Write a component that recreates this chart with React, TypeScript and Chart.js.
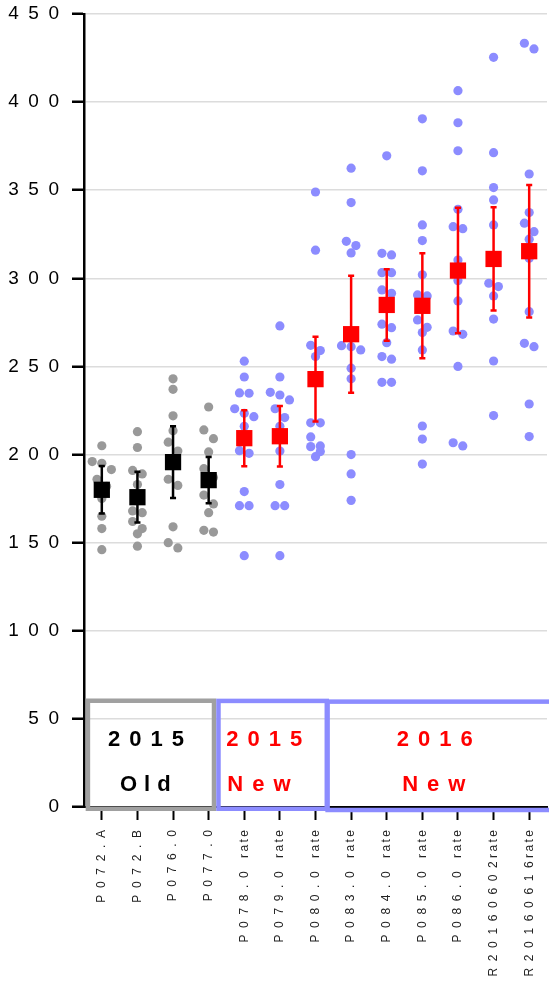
import React, { useEffect, useRef } from 'react';
import { Chart, registerables } from 'chart.js';

Chart.register(...registerables);

// ---------- data ----------
const categories = [
  'P072.A', 'P072.B', 'P076.0', 'P077.0',
  'P078.0 rate', 'P079.0 rate', 'P080.0 rate', 'P083.0 rate', 'P084.0 rate',
  'P085.0 rate', 'P086.0 rate', 'R20160602rate', 'R20160616rate',
];
const oldCount = 4; // first four categories are "2015 Old"

const yTickValues = [0, 50, 100, 150, 200, 250, 300, 350, 400, 450];

const valsP072A = [205, 196, 195, 191.5, 186, 182, 175, 165, 158, 146];
const valsP072B = [213, 204, 191, 189, 183, 168, 167, 162, 158, 155, 148];
const valsP076 = [243, 237, 222, 213.5, 207, 202, 197, 186, 182.5, 159, 150, 147];
const valsP077 = [227, 214, 209, 201.5, 192, 187, 177, 172, 167, 157, 156];
const valsP078 = [253, 244, 235, 234.8, 226, 223.4, 221.5, 216, 202.2, 200.7, 179, 171, 171, 142.6];
const valsP079 = [273, 244, 235.3, 233.8, 231, 226, 221, 216, 209, 202, 183, 171, 171, 142.6];
const valsP080 = [349, 316, 262, 259, 255.6, 218, 218, 210, 204.9, 204.5, 201.7, 198.8];
const valsP083 = [362.5, 343, 321, 318.6, 314.4, 261.8, 261.2, 259.4, 249, 243, 200, 189, 174];
const valsP084 = [369.5, 314.2, 313.3, 303.2, 303.2, 293.4, 291.5, 274, 272, 263.5, 255.6, 254.1, 241, 241];
const valsP085 = [390.5, 361, 330.3, 321.4, 302, 290.6, 290, 276.4, 272.2, 269.2, 259.4, 216.2, 208.8, 194.6];
const valsP086 = [406.5, 388.3, 372.4, 339.2, 329.3, 328.2, 310.4, 298.7, 287.2, 270.1, 268.2, 250, 206.7, 204.9];
const valsR0602 = [425.4, 371.3, 351.5, 344.5, 330.3, 297.2, 295.3, 290, 276.9, 253.1, 222.1];
const valsR0616 = [433.4, 430.2, 359.2, 337.3, 331.3, 326.5, 322.2, 311.4, 281.1, 263.1, 261.2, 228.7, 210.2];

const groupValues = [
  valsP072A, valsP072B, valsP076, valsP077, valsP078, valsP079, valsP080,
  valsP083, valsP084, valsP085, valsP086, valsR0602, valsR0616,
];

const means = [180, 175.8, 195.7, 185.5, 209.3, 210.4, 242.8, 268.3, 284.9, 284.4, 304.4, 311, 315.4];
const sds = [13.5, 14.4, 20.4, 13.1, 15.9, 17.2, 24.1, 33.2, 20.3, 29.8, 35.6, 29.3, 37.6];

// group annotation boxes (text shown on the chart)
const boxTitles = ['2015', '2015', '2016'];
const boxSubs = ['Old', 'New', 'New'];

// ---------- styling / layout helpers ----------
const GRAY_DOT = '#999999';
const BLUE_DOT = '#8c8cff';
const RED = '#ff0000';
const BLACK = '#000000';
const FONT = '"Liberation Sans", Arial, Helvetica, sans-serif';

const boxLayout = [
  { x0: -0.39, x1: 3.15, y0: -1, y1: 60.3, border: '#a0a0a0', text: BLACK, titleX: 1.24, subX: 1.22, subSpacing: 7 },
  { x0: 6.34, x1: 13.2, y0: -1.7, y1: 59.8, border: BLUE_DOT, text: RED, titleX: 9.35, subX: 9.32, subSpacing: 9 },
  { x0: 3.276, x1: 6.317, y0: -1, y1: 60.2, border: BLUE_DOT, text: RED, titleX: 4.56, subX: 4.41, subSpacing: 9 },
];
const boxTextIndex = [0, 2, 1];
const TITLE_Y = 34.5;
const SUB_Y = 8.9;

// scatter-dot spread: values close together share a row and are laid side by side
const ROW_VALUE = 5.1;      // values within this range share a row
const DOT_STEP = 9.6 / 35.65; // horizontal step between dots of a row, in category units
function spread(values: number[]): number[] {
  const order = values.map((_, i) => i).sort((a, b) => values[b] - values[a]);
  const offsets = new Array(values.length).fill(0);
  let row: number[] = [];
  const flush = () => {
    const n = row.length;
    row.forEach((idx, k) => { offsets[idx] = (k - (n - 1) / 2) * DOT_STEP; });
    row = [];
  };
  for (const i of order) {
    if (row.length && values[row[0]] - values[i] > ROW_VALUE) flush();
    row.push(i);
  }
  flush();
  return offsets;
}

function dotsFor(indices: number[]) {
  const pts: { x: number; y: number }[] = [];
  for (const i of indices) {
    const offs = spread(groupValues[i]);
    groupValues[i].forEach((v, k) => pts.push({ x: i + offs[k], y: v }));
  }
  return pts;
}

const CAP = 0.085;
function errorSegments(indices: number[]) {
  const out: { x: number; y: number | null }[] = [];
  for (const i of indices) {
    const hi = means[i] + sds[i];
    const lo = means[i] - sds[i];
    out.push({ x: i, y: lo }, { x: i, y: hi }, { x: i, y: null });
    out.push({ x: i - CAP, y: hi }, { x: i + CAP, y: hi }, { x: i, y: null });
    out.push({ x: i - CAP, y: lo }, { x: i + CAP, y: lo }, { x: i, y: null });
  }
  return out;
}

function spacedX(label: string): string {
  const m = label.match(/^(.*?)( ?)rate$/);
  const code = m ? m[1] : label;
  let s = code.split('').join('  ');
  if (m) s += (m[2] ? '    ' : ' ') + 'rate'.split('').join('\u2009');
  return s;
}

function drawSpaced(ctx: CanvasRenderingContext2D, text: string, cx: number, y: number, spacing: number) {
  const c = ctx as any;
  c.letterSpacing = '0px';
  const w0 = ctx.measureText(text).width;
  const visual = w0 + spacing * (text.length - 1);
  c.letterSpacing = spacing + 'px';
  ctx.textAlign = 'left';
  ctx.fillText(text, cx - visual / 2, y);
  c.letterSpacing = '0px';
}

const boxPlugin = {
  id: 'groupBoxes',
  afterDraw(chart: any) {
    const { ctx } = chart;
    const xs = chart.scales.x;
    const ys = chart.scales.y;
    ctx.save();
    boxLayout.forEach((b, k) => {
      const l = xs.getPixelForValue(b.x0);
      const r = xs.getPixelForValue(b.x1);
      const t = ys.getPixelForValue(b.y1);
      const bt = ys.getPixelForValue(b.y0);
      ctx.strokeStyle = b.border;
      ctx.lineWidth = 4.5;
      ctx.strokeRect(l, t, r - l, bt - t);
      const ti = boxTextIndex[k];
      ctx.fillStyle = b.text;
      ctx.font = `bold 22px ${FONT}`;
      ctx.textBaseline = 'alphabetic';
      drawSpaced(ctx, boxTitles[ti], xs.getPixelForValue(b.titleX), ys.getPixelForValue(TITLE_Y), 9);
      drawSpaced(ctx, boxSubs[ti], xs.getPixelForValue(b.subX), ys.getPixelForValue(SUB_Y), b.subSpacing);
    });
    ctx.restore();
  },
};

const oldIdx = categories.map((_, i) => i).filter((i) => i < oldCount);
const newIdx = categories.map((_, i) => i).filter((i) => i >= oldCount);

export default function App() {
  const ref = useRef<HTMLCanvasElement>(null);
  useEffect(() => {
    const canvas = ref.current;
    if (!canvas) return;
    const chart = new Chart(canvas, {
      type: 'scatter',
      data: {
        datasets: [
          {
            label: 'mean old',
            data: oldIdx.map((i) => ({ x: i, y: means[i] })),
            pointStyle: 'rect',
            pointRadius: 11.5,
            pointBackgroundColor: BLACK,
            pointBorderWidth: 0,
            order: 0,
          },
          {
            label: 'mean new',
            data: newIdx.map((i) => ({ x: i, y: means[i] })),
            pointStyle: 'rect',
            pointRadius: 11.5,
            pointBackgroundColor: RED,
            pointBorderWidth: 0,
            order: 0,
          },
          {
            label: 'sd old',
            data: errorSegments(oldIdx),
            showLine: true,
            spanGaps: false,
            borderColor: BLACK,
            borderWidth: 2.5,
            pointRadius: 0,
            order: 1,
          },
          {
            label: 'sd new',
            data: errorSegments(newIdx),
            showLine: true,
            spanGaps: false,
            borderColor: RED,
            borderWidth: 2.5,
            pointRadius: 0,
            order: 1,
          },
          {
            label: 'old',
            data: dotsFor(oldIdx),
            pointRadius: 4.6,
            pointBackgroundColor: GRAY_DOT,
            pointBorderWidth: 0,
            order: 2,
          },
          {
            label: 'new',
            data: dotsFor(newIdx),
            pointRadius: 4.6,
            pointBackgroundColor: BLUE_DOT,
            pointBorderWidth: 0,
            order: 2,
          },
        ] as any,
      },
      options: {
        responsive: false,
        maintainAspectRatio: false,
        devicePixelRatio: 1,
        animation: false,
        events: [],
        layout: { autoPadding: false, padding: { top: 14, right: 2, left: 0, bottom: 0 } },
        plugins: { legend: { display: false }, tooltip: { enabled: false } },
        scales: {
          x: {
            type: 'linear',
            min: -0.5,
            max: categories.length - 0.5,
            afterBuildTicks: (scale: any) => {
              scale.ticks = categories.map((_, i) => ({ value: i }));
            },
            afterFit: (scale: any) => {
              scale.height = 185;
              scale.paddingLeft = 0;
              scale.paddingRight = 0;
            },
            ticks: {
              autoSkip: false,
              minRotation: 90,
              maxRotation: 90,
              padding: 10,
              color: '#222222',
              font: { family: FONT, size: 12 },
              callback: (v: any) => spacedX(categories[Math.round(Number(v))] ?? ''),
            },
            grid: {
              drawOnChartArea: false,
              drawTicks: true,
              tickLength: 13,
              tickColor: BLACK,
              tickWidth: 2,
            },
            border: { display: true, color: BLACK, width: 2 },
          },
          y: {
            type: 'linear',
            min: 0,
            max: 450,
            afterBuildTicks: (scale: any) => {
              scale.ticks = yTickValues.map((v) => ({ value: v }));
            },
            afterFit: (scale: any) => {
              scale.width = 84;
              scale.paddingTop = 0;
              scale.paddingBottom = 0;
            },
            ticks: {
              padding: 13,
              color: BLACK,
              font: { family: FONT, size: 19 },
              callback: (v: any) => String(v).split('').join('\u2002'),
            },
            grid: {
              color: '#dcdcdc',
              lineWidth: 1.5,
              tickLength: 12,
              tickColor: BLACK,
              tickWidth: 2.5,
            },
            border: { display: true, color: BLACK, width: 2.5 },
          },
        },
      } as any,
      plugins: [boxPlugin],
    });
    return () => chart.destroy();
  }, []);

  return (
    <div style={{ position: 'absolute', left: 0, top: 0, width: 549, height: 992, background: '#ffffff' }}>
      <canvas ref={ref} width={549} height={992} style={{ display: 'block', width: 549, height: 992 }} />
    </div>
  );
}
